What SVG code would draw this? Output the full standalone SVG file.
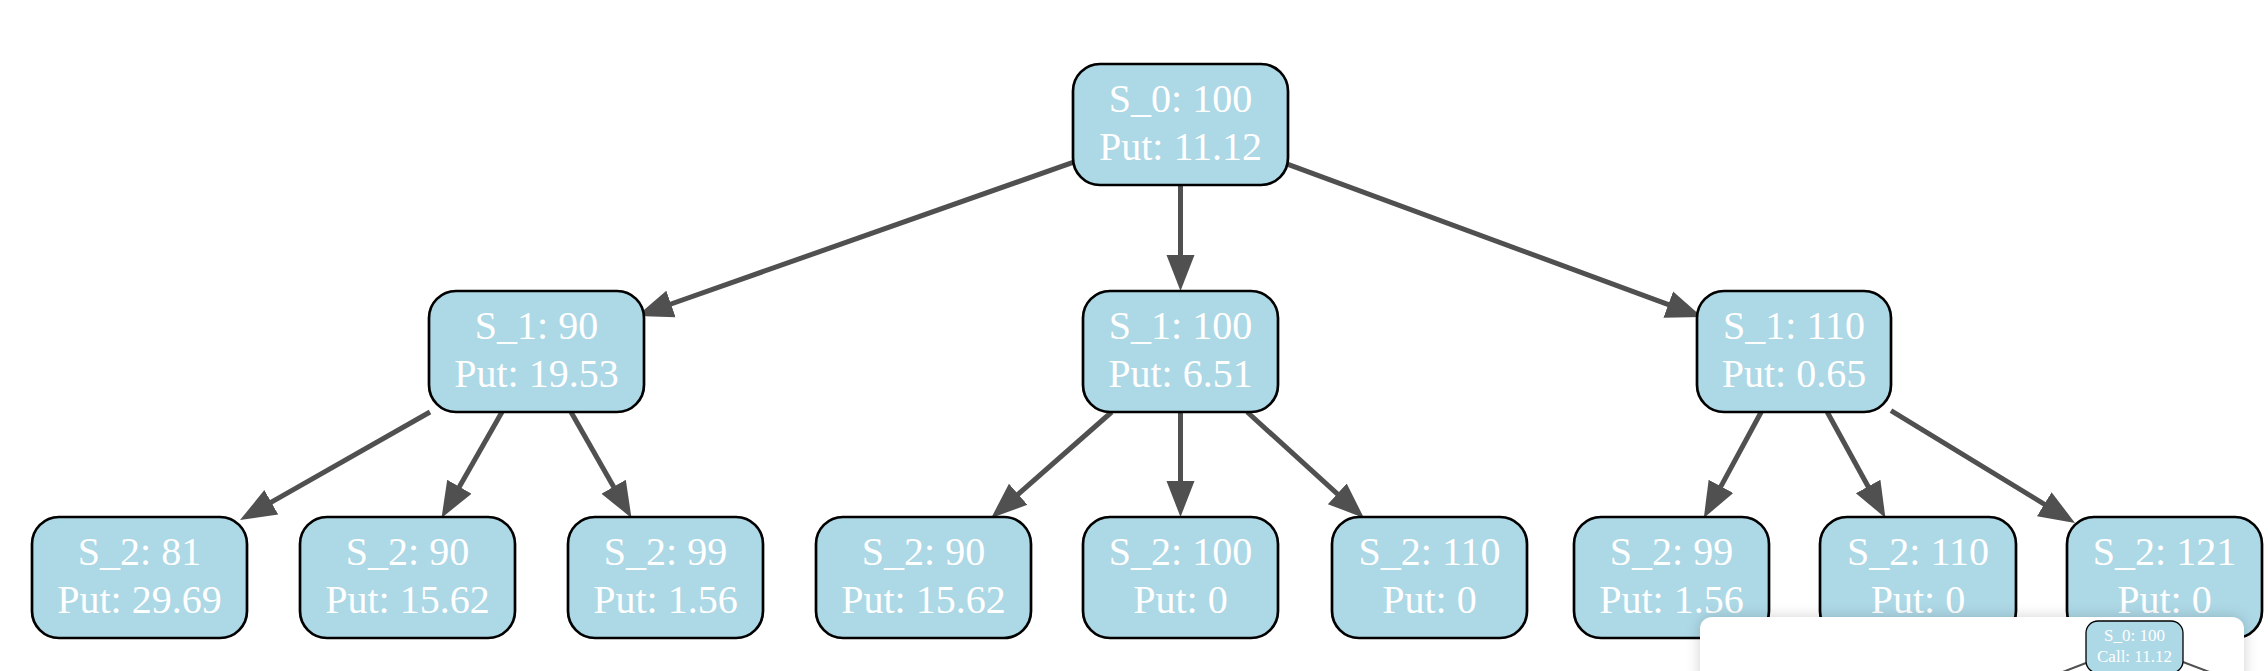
<svg xmlns="http://www.w3.org/2000/svg" width="2268" height="671" viewBox="0 0 2268 671">
<style>
.n rect{fill:#add8e6;stroke:#000;stroke-width:2.7}
.n text{font-family:"Liberation Serif","Times New Roman",serif;font-size:40px;fill:#fff;text-anchor:middle}
.e line{stroke:#505050;stroke-width:5;fill:none}
.m text{font-family:"Liberation Serif","Times New Roman",serif;font-size:17px;fill:#fff;text-anchor:middle}
</style>
<defs>
<marker id="ah" markerUnits="userSpaceOnUse" markerWidth="40" markerHeight="32" viewBox="0 -16 40 32" refX="6" refY="0" orient="auto">
<path d="M0,-14 L36,0 L0,14 z" fill="#505050"/>
</marker>
<filter id="sh" x="-10%" y="-30%" width="120%" height="160%">
<feDropShadow dx="0" dy="0" stdDeviation="7" flood-color="#000" flood-opacity="0.18"/>
</filter>
</defs>
<rect width="2268" height="671" fill="#fff"/>
<g id="connectors" class="e">
<line x1="1073" y1="162.4" x2="665.3" y2="306" marker-end="url(#ah)"/>
<line x1="1180.5" y1="185" x2="1180.5" y2="261" marker-end="url(#ah)"/>
<line x1="1288" y1="164.3" x2="1673.9" y2="306.6" marker-end="url(#ah)"/>
<line x1="430" y1="412" x2="266.1" y2="505.2" marker-end="url(#ah)"/>
<line x1="502" y1="412" x2="456.4" y2="491.9" marker-end="url(#ah)"/>
<line x1="571" y1="412" x2="616.6" y2="491.9" marker-end="url(#ah)"/>
<line x1="1111.7" y1="412" x2="1013.7" y2="498.2" marker-end="url(#ah)"/>
<line x1="1180.5" y1="412" x2="1180.5" y2="487" marker-end="url(#ah)"/>
<line x1="1247.2" y1="412" x2="1341.7" y2="497.8" marker-end="url(#ah)"/>
<line x1="1761.2" y1="412" x2="1718.1" y2="491.6" marker-end="url(#ah)"/>
<line x1="1827.2" y1="412" x2="1871" y2="491.7" marker-end="url(#ah)"/>
<line x1="1891" y1="410.7" x2="2049.4" y2="507.3" marker-end="url(#ah)"/>
</g>
<g id="n_s0" class="n"><rect x="1073" y="64" width="215" height="121" rx="27"/><text x="1180.5" y="112">S_0: 100</text><text x="1180.5" y="160">Put: 11.12</text></g>
<g id="n_s1_90" class="n"><rect x="429" y="291" width="215" height="121" rx="27"/><text x="536.5" y="339">S_1: 90</text><text x="536.5" y="387">Put: 19.53</text></g>
<g id="n_s1_100" class="n"><rect x="1083" y="291" width="195" height="121" rx="27"/><text x="1180.5" y="339">S_1: 100</text><text x="1180.5" y="387">Put: 6.51</text></g>
<g id="n_s1_110" class="n"><rect x="1697" y="291" width="194" height="121" rx="27"/><text x="1794" y="339">S_1: 110</text><text x="1794" y="387">Put: 0.65</text></g>
<g id="n_s2_81" class="n"><rect x="32" y="517" width="215" height="121" rx="27"/><text x="139.5" y="565">S_2: 81</text><text x="139.5" y="613">Put: 29.69</text></g>
<g id="n_s2_90a" class="n"><rect x="300" y="517" width="215" height="121" rx="27"/><text x="407.5" y="565">S_2: 90</text><text x="407.5" y="613">Put: 15.62</text></g>
<g id="n_s2_99a" class="n"><rect x="568" y="517" width="195" height="121" rx="27"/><text x="665.5" y="565">S_2: 99</text><text x="665.5" y="613">Put: 1.56</text></g>
<g id="n_s2_90b" class="n"><rect x="816" y="517" width="215" height="121" rx="27"/><text x="923.5" y="565">S_2: 90</text><text x="923.5" y="613">Put: 15.62</text></g>
<g id="n_s2_100" class="n"><rect x="1083" y="517" width="195" height="121" rx="27"/><text x="1180.5" y="565">S_2: 100</text><text x="1180.5" y="613">Put: 0</text></g>
<g id="n_s2_110a" class="n"><rect x="1332" y="517" width="195" height="121" rx="27"/><text x="1429.5" y="565">S_2: 110</text><text x="1429.5" y="613">Put: 0</text></g>
<g id="n_s2_99b" class="n"><rect x="1574" y="517" width="195" height="121" rx="27"/><text x="1671.5" y="565">S_2: 99</text><text x="1671.5" y="613">Put: 1.56</text></g>
<g id="n_s2_110b" class="n"><rect x="1820" y="517" width="196" height="121" rx="27"/><text x="1918" y="565">S_2: 110</text><text x="1918" y="613">Put: 0</text></g>
<g id="n_s2_121" class="n"><rect x="2067" y="517" width="195" height="121" rx="27"/><text x="2164.5" y="565">S_2: 121</text><text x="2164.5" y="613">Put: 0</text></g>
<g id="panel">
<rect x="1700" y="617" width="544" height="90" rx="12" fill="#fff" filter="url(#sh)"/>
<line x1="2086" y1="663" x2="2060" y2="673" stroke="#505050" stroke-width="2"/>
<line x1="2183" y1="662" x2="2212" y2="673" stroke="#505050" stroke-width="2"/>
<g id="mini_s0" class="m"><rect x="2086" y="621" width="97" height="52" rx="12" fill="#add8e6" stroke="#000" stroke-width="1.3"/><text x="2134.5" y="641">S_0: 100</text><text x="2134.5" y="662">Call: 11.12</text></g>
</g>
</svg>
